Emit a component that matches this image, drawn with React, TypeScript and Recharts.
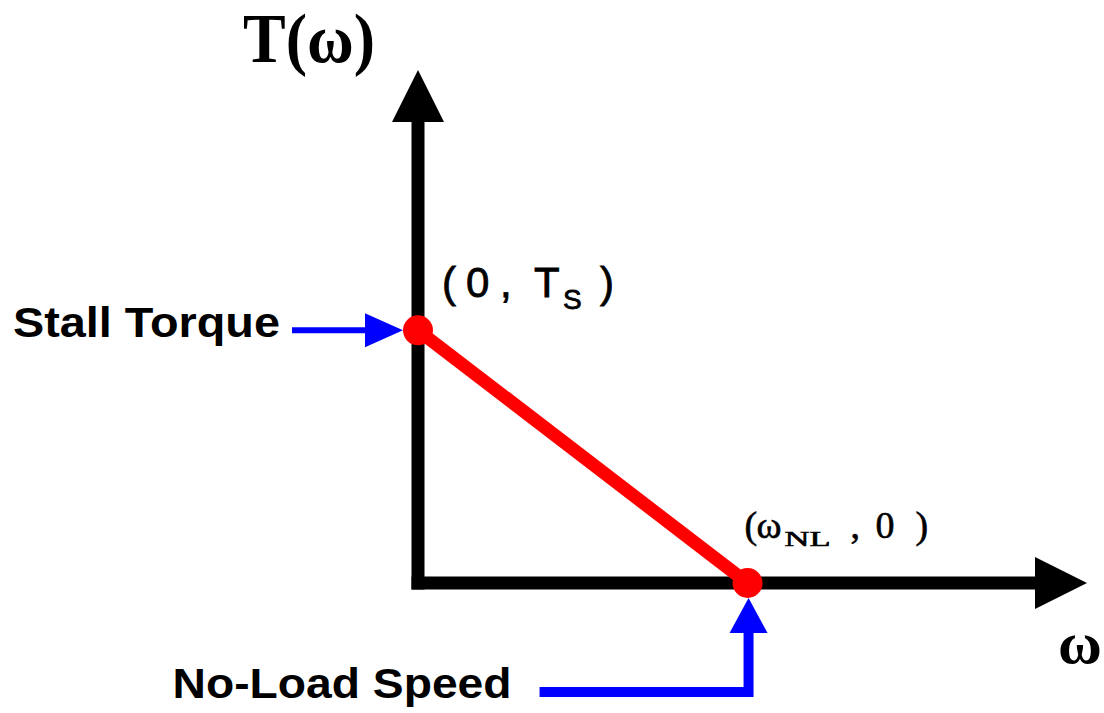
import { LineChart, Line, XAxis, YAxis, ReferenceLine, ReferenceDot } from "recharts"

// normalised: ω / ωNL and T / Ts
const omega = [0, 1]
const torque = [1, 0]
const AXIS_MAX = 2.03

const Y_TITLE = "T(ω)"
const X_TITLE = "ω"
const STALL_LABEL = "Stall Torque"
const NOLOAD_LABEL = "No-Load Speed"

const data = omega.map((w, i) => ({ w, t: torque[i] }))

const RED = "#ff0000"
const BLUE = "#0000ff"
const SANS = "'Liberation Sans', Arial, sans-serif"
const SERIF = "'Liberation Serif', 'Times New Roman', serif"

function AxisArrow(props: any) {
  const { x1, y1, x2, y2 } = props
  const len = 52
  const half = 26
  const d = Math.hypot(x2 - x1, y2 - y1)
  const ux = (x2 - x1) / d
  const uy = (y2 - y1) / d
  const bx = x2 - ux * len
  const by = y2 - uy * len
  return (
    <g>
      <line x1={x1} y1={y1} x2={bx} y2={by} stroke="#000" strokeWidth={13} strokeLinecap="square" />
      <polygon
        points={`${x2},${y2} ${bx - uy * half},${by + ux * half} ${bx + uy * half},${by - ux * half}`}
        fill="#000"
      />
    </g>
  )
}

function StallMark({ cx, cy }: any) {
  const tip = cx - 15
  return (
    <g>
      <line x1={cx - 126} y1={cy} x2={tip - 34} y2={cy} stroke={BLUE} strokeWidth={6} />
      <polygon points={`${tip},${cy} ${tip - 38},${cy - 17} ${tip - 38},${cy + 17}`} fill={BLUE} />
      <text x={cx - 405} y={cy + 7} fontFamily={SANS} fontWeight="bold" fontSize={42}
        textLength={267} lengthAdjust="spacingAndGlyphs">
        {STALL_LABEL}
      </text>
      <text y={cy - 33} fontFamily={SANS} fontSize={42} stroke="#000" strokeWidth={0.8}>
        <tspan x={cx + 24}>(</tspan>
        <tspan x={cx + 48}>0</tspan>
        <tspan x={cx + 82}>,</tspan>
        <tspan x={cx + 116}>T</tspan>
        <tspan x={cx + 145} y={cy - 21} fontSize={28}>S</tspan>
        <tspan x={cx + 182} y={cy - 33}>)</tspan>
      </text>
    </g>
  )
}

function NoLoadMark({ cx, cy }: any) {
  const lx = cx + 1
  return (
    <g>
      <polyline
        points={`${cx - 208},${cy + 109} ${lx},${cy + 109} ${lx},${cy + 46}`}
        fill="none" stroke={BLUE} strokeWidth={10} strokeLinejoin="miter"
      />
      <polygon points={`${lx},${cy + 15} ${lx - 19},${cy + 50} ${lx + 19},${cy + 50}`} fill={BLUE} />
      <text x={cx - 575} y={cy + 115} fontFamily={SANS} fontWeight="bold" fontSize={42}
        textLength={339} lengthAdjust="spacingAndGlyphs">
        {NOLOAD_LABEL}
      </text>
      <text y={cy - 45} fontFamily={SERIF} fontSize={38} stroke="#000" strokeWidth={0.6}>
        <tspan x={cx - 3}>(</tspan>
        <tspan x={cx + 9}>ω</tspan>
        <tspan x={cx + 37} y={cy - 37} fontSize={21} textLength={46} lengthAdjust="spacingAndGlyphs">NL</tspan>
        <tspan x={cx + 103} y={cy - 45}>,</tspan>
        <tspan x={cx + 128}>0</tspan>
        <tspan x={cx + 168}>)</tspan>
      </text>
    </g>
  )
}

function YTitle({ cx, cy }: any) {
  return (
    <text x={cx - 175} y={cy - 8} fontFamily={SERIF} fontWeight="bold" fontSize={70}
      textLength={132} lengthAdjust="spacingAndGlyphs">
      {Y_TITLE}
    </text>
  )
}

function XTitle({ cx, cy }: any) {
  return (
    <text x={cx - 29} y={cy + 80} fontFamily={SERIF} fontWeight="bold" fontSize={60}>
      {X_TITLE}
    </text>
  )
}

export default function App() {
  return (
    <div style={{ position: "absolute", left: 0, top: 0, background: "#fff" }}>
      <LineChart width={1104} height={713} data={data}
        margin={{ top: 70, right: 17, bottom: 130, left: 418 }}>
        <XAxis type="number" dataKey="w" domain={[0, AXIS_MAX]} hide />
        <YAxis type="number" domain={[0, AXIS_MAX]} hide />
        <ReferenceLine segment={[{ x: 0, y: 0 }, { x: 0, y: AXIS_MAX }]} shape={AxisArrow} />
        <ReferenceLine segment={[{ x: 0, y: 0 }, { x: AXIS_MAX, y: 0 }]} shape={AxisArrow} />
        <ReferenceDot x={0} y={AXIS_MAX} r={1} shape={YTitle} />
        <ReferenceDot x={AXIS_MAX} y={0} r={1} shape={XTitle} />
        <ReferenceDot x={omega[0]} y={torque[0]} r={1} shape={StallMark} />
        <ReferenceDot x={omega[1]} y={torque[1]} r={1} shape={NoLoadMark} />
        <Line
          dataKey="t"
          stroke={RED}
          strokeWidth={13}
          dot={{ r: 15, fill: RED, stroke: "none", strokeWidth: 0 }}
          activeDot={false}
          isAnimationActive={false}
        />
      </LineChart>
    </div>
  )
}
